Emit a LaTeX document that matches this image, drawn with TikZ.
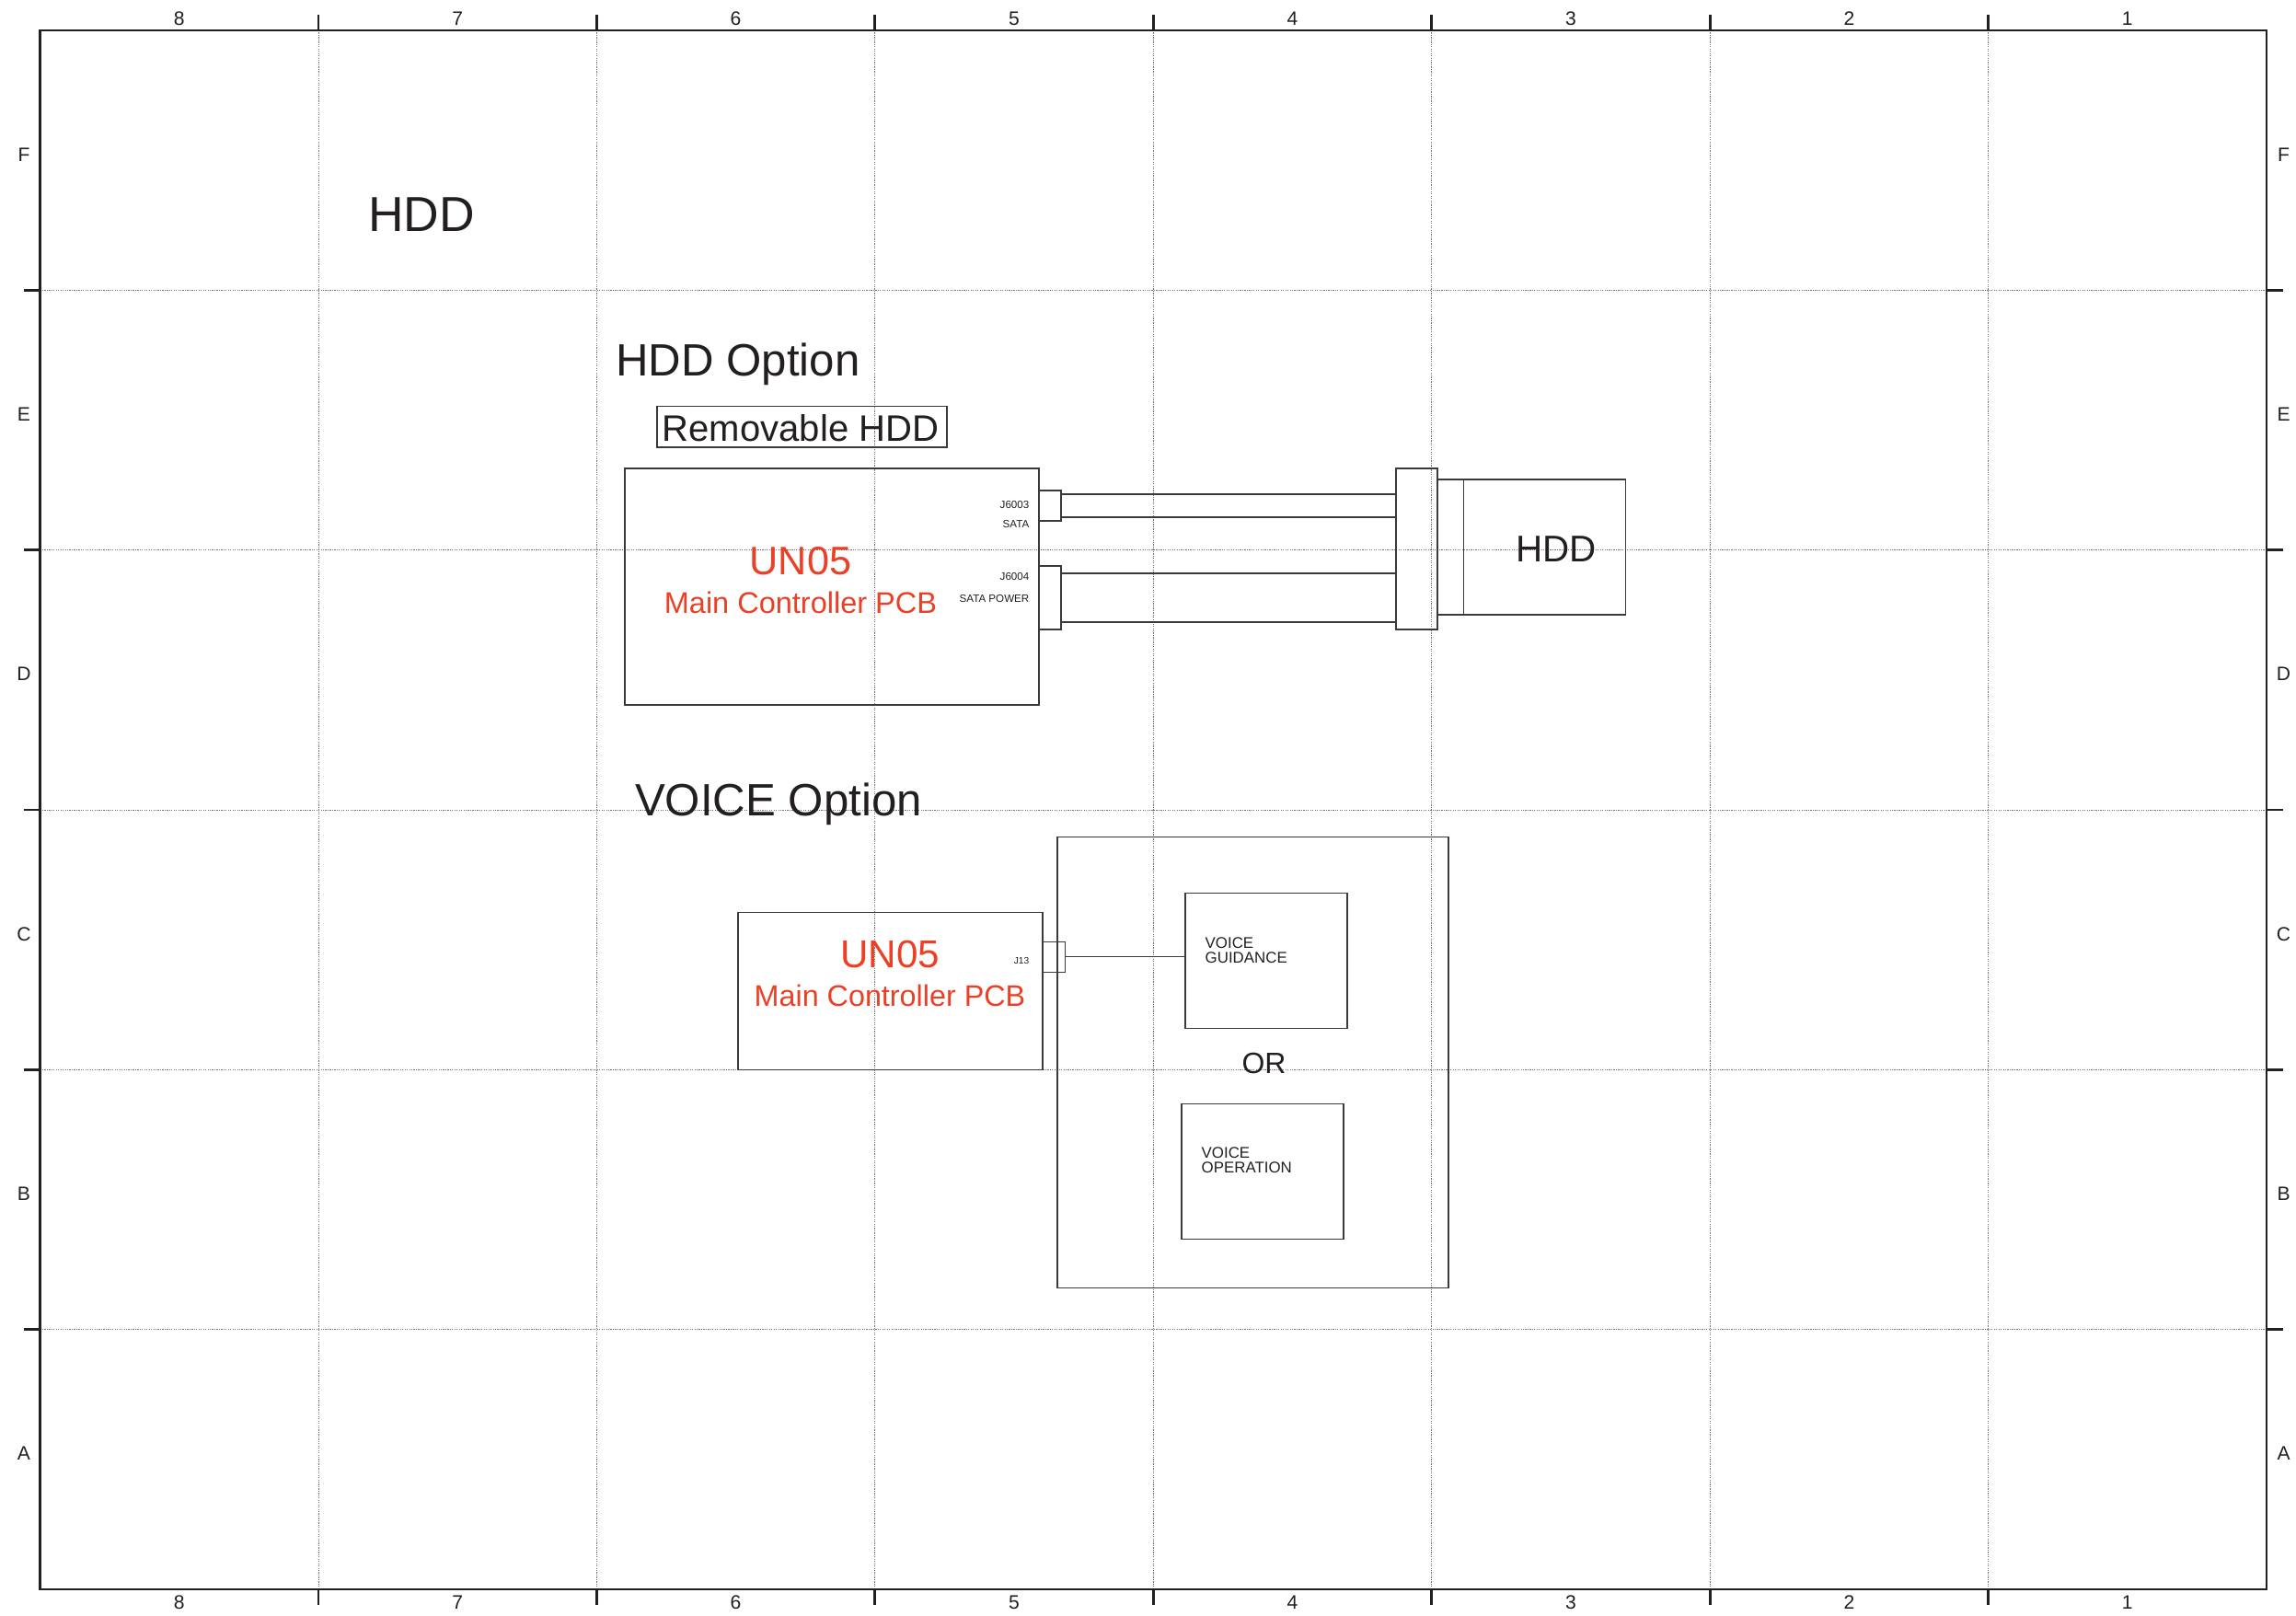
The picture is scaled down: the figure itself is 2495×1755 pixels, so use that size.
\documentclass[tikz,border=0pt]{standalone}
\usepackage{fontspec}
\setmainfont{Liberation Sans}
\usetikzlibrary{fit}
\definecolor{txtc}{HTML}{231F20}
\definecolor{redc}{HTML}{EC4026}
\definecolor{linec}{HTML}{3A3A3A}
\newcommand{\fsz}[1]{\fontsize{#1}{#1}\selectfont}
\tikzset{
  framel/.style={line width=0.77pt, draw=txtc},
  gridl/.style={draw=black!55, line width=0.25pt, dash pattern=on 0.35pt off 0.35pt},
  tickl/.style={line width=0.77pt, draw=txtc},
  boxn/.style={draw=linec, line width=0.3pt, inner sep=0pt, fill=none},
  wire/.style={draw=linec, line width=0.3pt},
  lbl/.style={inner sep=0pt, text=txtc},
  redl/.style={inner sep=0pt, text=redc},
  framelbl/.style={inner sep=0pt, text=txtc, font=\fsz{6pt}, anchor=base},
}
\begin{document}
\begin{tikzpicture}[x=0.1mm,y=-0.1mm]
\useasboundingbox (0,0) rectangle (2495,1755);
% grid
\foreach \k in {1,...,7}{
  \draw[gridl] ({43.5+302.44*\k},33) -- ({43.5+302.44*\k},1727);
  \draw[tickl] ({43.5+302.44*\k},16) -- ({43.5+302.44*\k},33);
  \draw[tickl] ({43.5+302.44*\k},1727) -- ({43.5+302.44*\k},1744);
}
\foreach \j in {1,...,5}{
  \draw[gridl] (43.5,{33+282.33*\j}) -- (2463,{33+282.33*\j});
  \draw[tickl] (26,{33+282.33*\j}) -- (43.5,{33+282.33*\j});
  \draw[tickl] (2463,{33+282.33*\j}) -- (2481,{33+282.33*\j});
}
\draw[framel] (43.5,33) rectangle (2463,1727);
% frame labels
\foreach \n [count=\k from 0] in {8,7,6,5,4,3,2,1}{
  \node[framelbl] (top\n) at ({43.5+302.44*(\k+0.5)},27) {\n};
  \node[framelbl] (bot\n) at ({43.5+302.44*(\k+0.5)},1748) {\n};
}
\foreach \r [count=\j from 0] in {F,E,D,C,B,A}{
  \node[framelbl] (left\r) at (26,{33+282.33*(\j+0.5)+1}) {\r};
  \node[framelbl] (right\r) at (2481.5,{33+282.33*(\j+0.5)+1}) {\r};
}
% titles
\node[lbl, anchor=base, font=\fsz{15.2pt}] (title) at (458,251) {HDD};
\node[lbl, anchor=base, font=\fsz{14pt}] (hddopt) at (802,408) {HDD Option};
\node[lbl, anchor=base, font=\fsz{14pt}] (voiceopt) at (846,886) {VOICE Option};
% removable HDD
\node[boxn, fit={(714,441.7) (1029,486)}] (rembox) {};
\node[lbl, anchor=base, font=\fsz{11.4pt}] (remtxt) at (870,479) {Removable HDD};
% HDD option blocks
\node[boxn, fit={(679,509) (1129,766)}] (un1) {};
\node[redl, anchor=base, font=\fsz{12.3pt}] (un1a) at (870,624) {UN05};
\node[redl, anchor=base, font=\fsz{9.25pt}] (un1b) at (870,666) {Main Controller PCB};
\node[boxn, fit={(1129,533) (1153,566)}] (j6003) {};
\node[boxn, fit={(1129,615) (1153,684)}] (j6004) {};
\node[lbl, anchor=base east, font=\fsz{3.3pt}] (j6003a) at (1119,552) {J6003};
\node[lbl, anchor=base east, font=\fsz{3.3pt}] (j6003b) at (1119,573) {SATA};
\node[lbl, anchor=base east, font=\fsz{3.3pt}] (j6004a) at (1119,630) {J6004};
\node[lbl, anchor=base east, font=\fsz{3.3pt}] (j6004b) at (1119,654) {SATA POWER};
\node[boxn, fit={(1517,509) (1562,684)}] (blk) {};
\node[boxn, fit={(1562,521) (1590.6,668)}] (hdda) {};
\node[boxn, fit={(1590.6,521) (1766.5,668)}] (hddb) {};
\node[lbl, anchor=base, font=\fsz{11.5pt}] (hddtxt) at (1691,610) {HDD};
\coordinate (w1) at (1153,537);
\coordinate (w2) at (1153,562);
\coordinate (w3) at (1153,623);
\coordinate (w4) at (1153,676);
\draw[wire] (w1) -- (w1 -| blk.west);
\draw[wire] (w2) -- (w2 -| blk.west);
\draw[wire] (w3) -- (w3 -| blk.west);
\draw[wire] (w4) -- (w4 -| blk.west);
% VOICE option
\node[boxn, fit={(1149,909) (1574,1399)}] (outer) {};
\node[boxn, fit={(802,991) (1133,1162)}] (un2) {};
\node[redl, anchor=base, font=\fsz{12pt}] (un2a) at (967,1051) {UN05};
\node[redl, anchor=base, font=\fsz{9.2pt}] (un2b) at (967,1093) {Main Controller PCB};
\node[boxn, fit={(1133,1023) (1157.7,1056)}] (j13) {};
\node[lbl, anchor=base east, font=\fsz{2.9pt}] (j13t) at (1119,1047) {J13};
\node[boxn, fit={(1288,970) (1464,1117)}] (vg) {};
\node[lbl, anchor=base west, font=\fsz{4.8pt}] (vg1) at (1309,1030.7) {VOICE};
\node[lbl, anchor=base west, font=\fsz{4.8pt}] (vg2) at (1309,1046) {GUIDANCE};
\node[boxn, fit={(1284,1199) (1460,1346)}] (vo) {};
\node[lbl, anchor=base west, font=\fsz{4.8pt}] (vo1) at (1305,1258) {VOICE};
\node[lbl, anchor=base west, font=\fsz{4.8pt}] (vo2) at (1305,1274) {OPERATION};
\node[lbl, anchor=base, font=\fsz{9.1pt}] (ortxt) at (1373.5,1166) {OR};
\draw[wire] (j13.east) -- (j13.east -| vg.west);
\end{tikzpicture}
\end{document}
